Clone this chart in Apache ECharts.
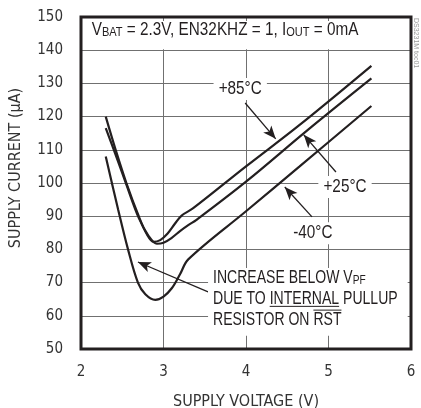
<!DOCTYPE html>
<html><head><meta charset="utf-8">
<script src="https://cdn.jsdelivr.net/npm/echarts@6/dist/echarts.min.js"></script>
<style>html,body{margin:0;padding:0;background:#fff}#c{width:421px;height:408px}</style>
</head><body><div id="c"></div>
<script>
// ---- data ----
const xTicks = [2, 3, 4, 5, 6];
const yTicks = [50, 60, 70, 80, 90, 100, 110, 120, 130, 140, 150];
const seriesNames = ['+85°C', '+25°C', '-40°C'];
const v85  = [2.30, 2.42, 2.55, 2.70, 2.80, 2.88, 2.96, 3.05, 3.14, 3.22, 3.36, 4.00, 4.65, 5.52];
const i85  = [120, 110, 100, 90, 84.5, 82.3, 82.8, 84.8, 87.8, 90.2, 92.4, 105, 117.5, 135.3];
const v25  = [2.30, 2.42, 2.55, 2.70, 2.82, 2.92, 3.00, 3.10, 3.20, 3.30, 3.40, 4.00, 4.75, 5.52];
const i25  = [116.5, 108.5, 99.5, 89.5, 84, 81.7, 82, 83.5, 85.5, 87.3, 88.9, 100.4, 116, 131.5];
const vM40 = [2.30, 2.45, 2.57, 2.69, 2.78, 2.90, 3.00, 3.10, 3.20, 3.30, 4.00, 4.65, 5.52];
const iM40 = [108, 92, 80, 70, 66.5, 64.8, 65.8, 68.3, 72.5, 77, 91.5, 105, 123.2];
const xTitle = 'SUPPLY VOLTAGE (V)';
const yTitle = 'SUPPLY CURRENT (µA)';
const noteLines = ['INCREASE BELOW V', 'DUE TO INTERNAL PULLUP', 'RESISTOR ON RST'];
const docId = 'DS3231M toc01';

// ---- annotation anchors (data coordinates) ----
const labelAt = { '+85°C': [3.93, 128.3], '+25°C': [5.20, 98.8], '-40°C': [4.81, 84.9] };
const arrows = [
  [[3.99, 124.1], [4.36, 113.3]],
  [[5.09, 103.3], [4.70, 114.5]],
  [[4.80, 89.8], [4.47, 98.8]],
  [[3.54, 67.2], [2.69, 76.2]]
];

const AXFONT = '"DejaVu Sans Condensed", "DejaVu Sans", sans-serif';
const GFONT = '"Liberation Sans", Arial, sans-serif';
const SX = 0.85;   // horizontal squeeze for a condensed look
const SXN = 0.78;  // squeeze for the note block
const INK = '#231f20';
const TXT = '#333';

const zip = (xs, ys) => xs.map((x, k) => [x, ys[k]]);
const chart = echarts.init(document.getElementById('c'), null, { renderer: 'canvas' });

const lineSeries = (name, xs, ys) => ({
  name, type: 'line', data: zip(xs, ys), showSymbol: false, smooth: 0.35, silent: true,
  lineStyle: { color: INK, width: 2.2 }, z: 3
});

const s85 = lineSeries(seriesNames[0], v85, i85);
s85.markLine = {
  silent: true, symbol: ['none', 'arrow'], symbolSize: [8, 13], animation: false,
  label: { show: false }, lineStyle: { color: INK, width: 1.3, type: 'solid' },
  data: arrows.map(a => [{ coord: a[0] }, { coord: a[1] }])
};

chart.setOption({
  animation: false,
  grid: { left: 81, right: 10, top: 17, bottom: 59, containLabel: false, outerBoundsMode: 'none' },
  xAxis: {
    type: 'value', min: xTicks[0], max: xTicks[xTicks.length - 1], interval: 1,
    axisLine: { show: false }, axisTick: { show: false },
    splitLine: { lineStyle: { color: '#707070', width: 1 } },
    axisLabel: { margin: 16, fontSize: 15, color: TXT, fontFamily: AXFONT },
    name: xTitle, nameLocation: 'middle', nameGap: 45,
    nameTextStyle: { fontSize: 16, color: TXT, fontFamily: AXFONT }
  },
  yAxis: {
    type: 'value', min: yTicks[0], max: yTicks[yTicks.length - 1], interval: 10,
    axisLine: { show: false }, axisTick: { show: false },
    splitLine: { lineStyle: { color: '#707070', width: 1 } },
    axisLabel: { margin: 18, fontSize: 15, color: TXT, fontFamily: AXFONT },
    name: yTitle, nameLocation: 'middle', nameGap: 57,
    nameTextStyle: { fontSize: 16, color: TXT, fontFamily: AXFONT, padding: [0, 0, 0, 30] }
  },
  series: [s85, lineSeries(seriesNames[1], v25, i25), lineSeries(seriesNames[2], vM40, iM40)]
});

// ---- overlay graphics positioned through the chart's scales ----
const p = (v, i) => chart.convertToPixel({ gridIndex: 0 }, [v, i]);
const tl = p(2, 150), br = p(6, 50);
const ctx = document.createElement('canvas').getContext('2d');
const measure = (t, size, sx) => { ctx.font = size + 'px ' + GFONT; return ctx.measureText(t).width * sx; };

const g = [];
// title strip
const l140 = p(2, 140);
g.push({ type: 'rect', z: 10, shape: { x: tl[0] + 2, y: tl[1] + 4, width: br[0] - tl[0] - 4, height: l140[1] - tl[1] - 5 }, style: { fill: '#fff' } });
const tp = p(2.13, 146.4);
const rich = {
  n: { fontSize: 18, fontFamily: GFONT, fill: INK, lineHeight: 20, verticalAlign: 'bottom' },
  s: { fontSize: 13, fontFamily: GFONT, fill: INK, lineHeight: 20, verticalAlign: 'bottom' }
};
g.push({ type: 'text', z: 11, x: tp[0], y: tp[1], scaleX: SX, style: {
  text: '{n|V}{s|BAT}{n| = 2.3V, EN32KHZ = 1, I}{s|OUT}{n| = 0mA}', rich,
  align: 'left', verticalAlign: 'middle' } });

// temperature labels
seriesNames.forEach(n => {
  const q = p(labelAt[n][0], labelAt[n][1]);
  g.push({ type: 'text', z: 11, x: q[0], y: q[1], scaleX: SX, style: {
    text: n, font: '18px ' + GFONT, fill: INK, align: 'center', verticalAlign: 'middle',
    backgroundColor: '#fff', padding: [2, 6] } });
});

// note box
const b0 = p(3.54, 74.4), b1 = p(5.96, 54);
g.push({ type: 'rect', z: 10, shape: { x: b0[0], y: b0[1], width: b1[0] - b0[0], height: b1[1] - b0[1] }, style: { fill: '#fff' } });
const noteY = [71.7, 65.4, 59.0];
const nx = p(3.6, 0)[0];
noteLines.forEach((t, k) => {
  const y = p(3.6, noteY[k])[1];
  const text = k === 0 ? '{n|' + t + '}{s|PF}' : '{n|' + t + '}';
  g.push({ type: 'text', z: 11, x: nx, y, scaleX: SXN, style: { text, rich, align: 'left', verticalAlign: 'middle' } });
});
// underline INTERNAL
{
  const y = p(3.6, noteY[1])[1];
  const a = nx + measure('DUE TO ', 18, SXN), w = measure('INTERNAL', 18, SXN);
  g.push({ type: 'line', z: 11, shape: { x1: a, y1: y + 8.5, x2: a + w, y2: y + 8.5 }, style: { stroke: INK, lineWidth: 1 } });
}
// overline RST
{
  const y = p(3.6, noteY[2])[1];
  const a = nx + measure('RESISTOR ON ', 18, SXN), w = measure('RST', 18, SXN);
  g.push({ type: 'line', z: 11, shape: { x1: a, y1: y - 9, x2: a + w, y2: y - 9 }, style: { stroke: INK, lineWidth: 1 } });
}
// frame
g.push({ type: 'rect', z: 12, shape: { x: tl[0], y: tl[1], width: br[0] - tl[0], height: br[1] - tl[1] }, style: { fill: 'none', stroke: INK, lineWidth: 3 } });
// document id
g.push({ type: 'text', z: 12, x: br[0] + 5, y: tl[1] + 1, rotation: -Math.PI / 2, style: {
  text: docId, font: '7px ' + GFONT, fill: '#999', align: 'left', verticalAlign: 'middle' } });

chart.setOption({ graphic: g });
</script></body></html>
